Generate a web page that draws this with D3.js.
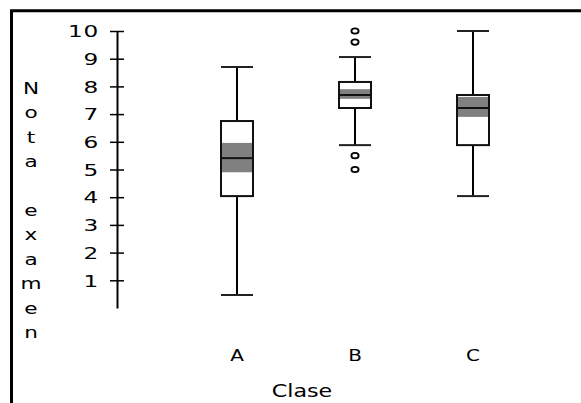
<!DOCTYPE html>
<html><head><meta charset="utf-8">
<script src="https://cdn.jsdelivr.net/npm/d3@7"></script>
<style>
html,body{margin:0;padding:0;background:#fff;}
svg{display:block;}
text{font-family:"DejaVu Sans",Verdana,sans-serif;fill:#000;}
</style></head>
<body>
<svg id="chart" width="581" height="403"></svg>
<script>
const categories = ["A", "B", "C"];
const whiskerLow = [0.47, 5.88, 4.04];
const q1 = [4.04, 7.22, 5.88];
const median = [5.41, 7.69, 7.22];
const q3 = [6.75, 8.16, 7.69];
const whiskerHigh = [8.7, 9.06, 10];
const notchLow = [4.9, 7.55, 6.9];
const notchHigh = [5.96, 7.9, 7.62];
const outliers = [[], [5.0, 5.5, 9.6, 10], []];
const yTicks = [1, 2, 3, 4, 5, 6, 7, 8, 9, 10];
const yLabel = "Nota examen";
const xLabel = "Clase";

const svg = d3.select("#chart");

// frame
svg.append("path").attr("d", "M11.5,403V10.8H581")
  .attr("fill", "none").attr("stroke", "#000").attr("stroke-width", 3);

const x = d3.scaleBand().domain(categories).range([178, 532]);
const y = d3.scaleLinear().domain([0, 10]).range([308, 31]);
const boxW = 32;

// y axis
const axisX = 117;
const ax = svg.append("g").attr("transform", `translate(${axisX},0)`)
  .call(d3.axisLeft(y).tickValues(yTicks).tickSizeInner(7).tickSizeOuter(0));
ax.select(".domain").attr("stroke", "#000").attr("stroke-width", 2);
ax.selectAll(".tick line").attr("x1", 7).attr("x2", -7).attr("stroke", "#000").attr("stroke-width", 1.5);
ax.selectAll(".tick text").attr("font-size", 16).attr("font-family", "DejaVu Sans")
  .attr("x", 0).attr("dy", "0.36em")
  .attr("transform", "translate(-18,0) scale(1.45,1)")
  .style("letter-spacing", "0.5px");

// y label vertical letters
const yl = svg.append("g");
yLabel.split("").forEach((ch, i) => {
  if (ch === " ") return;
  yl.append("text").attr("font-size", 16).attr("text-anchor", "middle")
    .attr("transform", `translate(31,${94 + 24.4 * i}) scale(1.35,1)`).text(ch);
});

// x category labels
svg.append("g").selectAll("text").data(categories).join("text")
  .attr("transform", d => `translate(${x(d) + x.bandwidth() / 2},361) scale(1.25,1)`)
  .attr("text-anchor", "middle").attr("font-size", 16).text(d => d);

svg.append("text").attr("transform", "translate(302,397) scale(1.2,1)").attr("text-anchor", "middle")
  .attr("font-size", 18.5).text(xLabel);

// boxes
const g = svg.append("g");
categories.forEach((c, i) => {
  const cx = x(c) + x.bandwidth() / 2;
  const x0 = cx - boxW / 2, x1 = cx + boxW / 2;
  g.append("line").attr("x1", cx).attr("x2", cx).attr("y1", y(whiskerHigh[i])).attr("y2", y(q3[i]))
    .attr("stroke", "#000").attr("stroke-width", 2);
  g.append("line").attr("x1", cx).attr("x2", cx).attr("y1", y(q1[i])).attr("y2", y(whiskerLow[i]))
    .attr("stroke", "#000").attr("stroke-width", 2);
  [whiskerHigh[i], whiskerLow[i]].forEach(v => {
    g.append("line").attr("x1", x0).attr("x2", x1).attr("y1", y(v)).attr("y2", y(v))
      .attr("stroke", "#222").attr("stroke-width", 2);
  });
  g.append("rect").attr("x", x0).attr("y", y(q3[i])).attr("width", boxW)
    .attr("height", y(q1[i]) - y(q3[i])).attr("fill", "#fff");
  g.append("rect").attr("x", x0).attr("y", y(notchHigh[i])).attr("width", boxW)
    .attr("height", y(notchLow[i]) - y(notchHigh[i])).attr("fill", "#808080");
  g.append("rect").attr("x", x0).attr("y", y(q3[i])).attr("width", boxW)
    .attr("height", y(q1[i]) - y(q3[i])).attr("fill", "none").attr("stroke", "#111").attr("stroke-width", 2);
  g.append("line").attr("x1", x0).attr("x2", x1).attr("y1", y(median[i])).attr("y2", y(median[i]))
    .attr("stroke", "#111").attr("stroke-width", 2);
  outliers[i].forEach(v => {
    g.append("ellipse").attr("cx", cx).attr("cy", y(v)).attr("rx", 3.6).attr("ry", 2.7)
      .attr("fill", "none").attr("stroke", "#000").attr("stroke-width", 1.8);
  });
});
</script>
</body></html>
